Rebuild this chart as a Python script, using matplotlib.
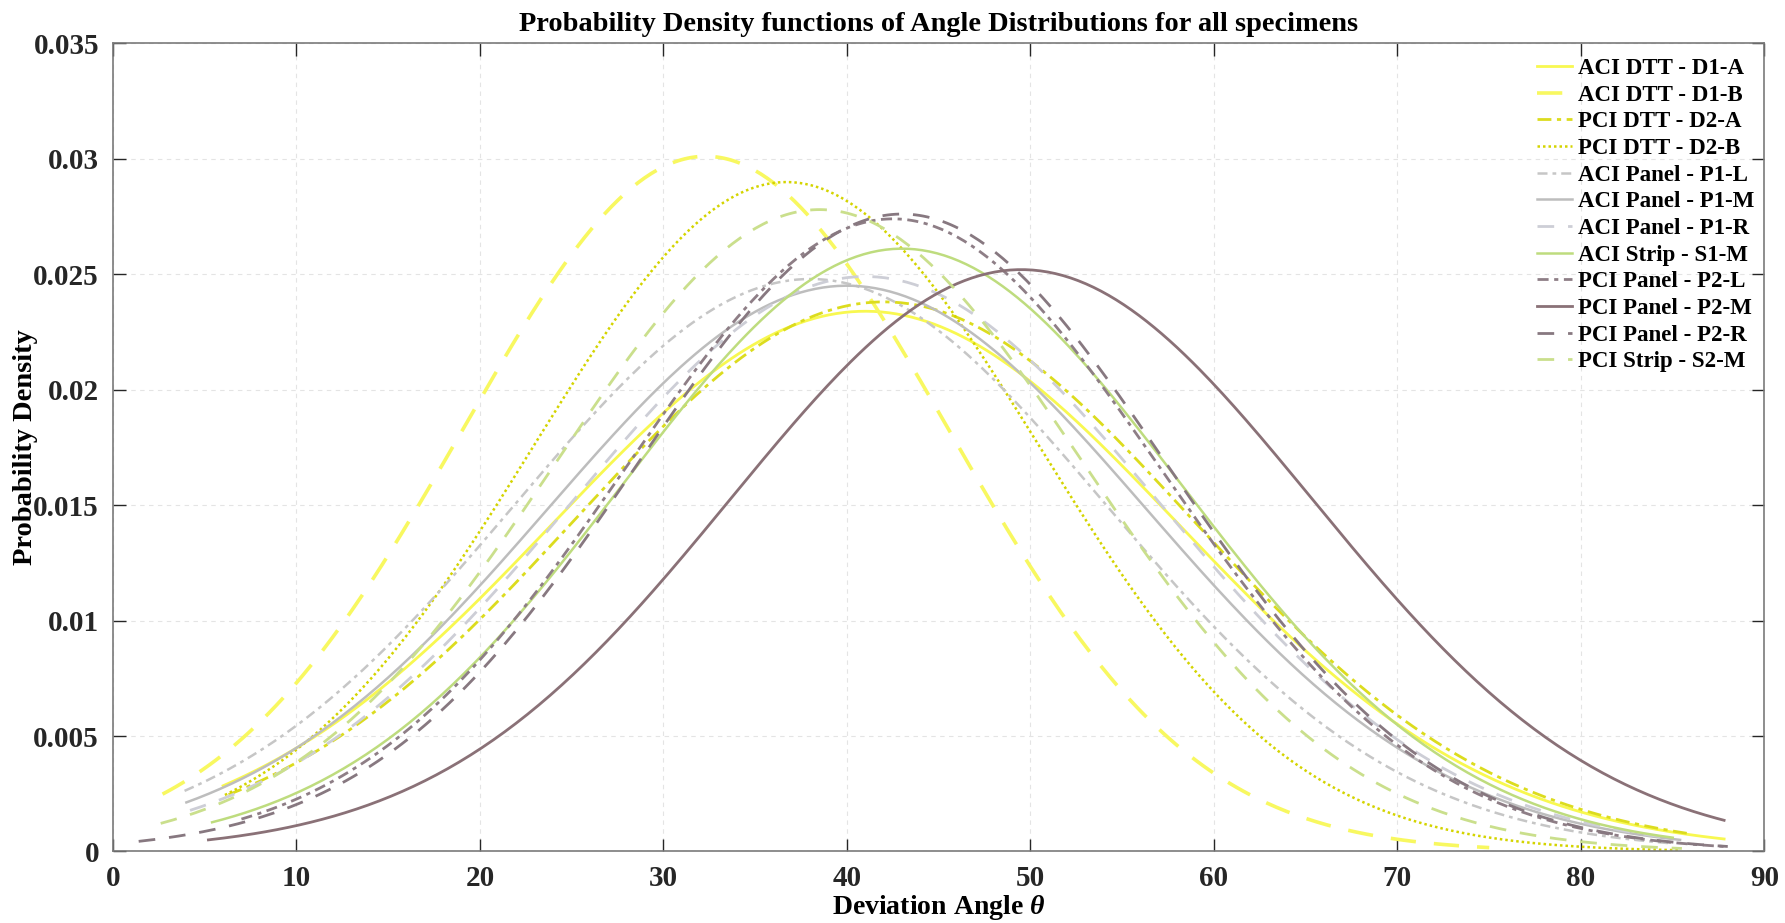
import numpy as np
import matplotlib
matplotlib.use("Agg")
import matplotlib.pyplot as plt

# Fitted normal distribution of deviation angle for each specimen
specimens = ["ACI DTT - D1-A", "ACI DTT - D1-B", "PCI DTT - D2-A", "PCI DTT - D2-B",
             "ACI Panel - P1-L", "ACI Panel - P1-M", "ACI Panel - P1-R", "ACI Strip - S1-M",
             "PCI Panel - P2-L", "PCI Panel - P2-M", "PCI Panel - P2-R", "PCI Strip - S2-M"]
mean_deg = [41.0, 32.3, 42.0, 36.7, 38.0, 40.0, 41.0, 43.0, 42.5, 49.5, 43.0, 38.5]
std_deg = [17.05, 13.25, 16.76, 13.76, 16.09, 16.28, 16.02, 15.28, 14.56, 15.83, 14.45, 14.35]
angle_min = [6.0, 2.7, 6.3, 6.1, 3.9, 4.0, 4.2, 5.4, 7.0, 5.2, 1.4, 2.6]
angle_max = [87.8, 75.0, 85.8, 85.3, 85.0, 85.4, 85.0, 85.0, 88.0, 87.8, 88.0, 85.5]

colors = ["#F8F850", "#F8F860", "#DCDC1E", "#D4D400",
          "#C6C6C6", "#BDBDBD", "#CDCED6", "#BEDC7E",
          "#8E7E86", "#8A7177", "#877880", "#CADF8C"]
styles = ["-", (0, (7, 5)), (0, (5, 2, 1.5, 2)), (0, (1, 1.2)),
          (0, (4, 2, 1.5, 2)), "-", (0, (6, 5)), "-",
          (0, (4, 2, 1.5, 2)), "-", (0, (6, 5)), (0, (6, 5))]
widths = [2.0, 2.6, 2.0, 1.8, 1.8, 1.8, 2.0, 1.8, 2.0, 2.0, 2.0, 2.0]

serif = "Liberation Serif"
plt.rcParams["font.family"] = [serif, "DejaVu Serif"]
plt.rcParams["mathtext.fontset"] = "custom"
plt.rcParams["mathtext.it"] = "Liberation Serif:italic:bold"
plt.rcParams["mathtext.rm"] = "Liberation Serif:bold"

fig = plt.figure(figsize=(17.85, 9.23), dpi=100)
ax = fig.add_axes([0.0633, 0.0775, 0.9252, 0.8755])

for name, mu, sd, lo, hi, c, ls, lw in zip(specimens, mean_deg, std_deg, angle_min,
                                           angle_max, colors, styles, widths):
    theta = np.linspace(lo, hi, 400)
    pdf = np.exp(-0.5 * ((theta - mu) / sd) ** 2) / (sd * np.sqrt(2 * np.pi))
    ax.plot(theta, pdf, color=c, linestyle=ls, linewidth=lw, label=name)

ax.set_xlim(0, 90)
ax.set_ylim(0, 0.035)
ax.set_xticks(np.arange(0, 91, 10))
ax.set_yticks(np.arange(0, 0.0351, 0.005))
ax.set_yticklabels(["0", "0.005", "0.01", "0.015", "0.02", "0.025", "0.03", "0.035"])
ax.grid(True, color="#e4e4e4", linestyle=(0, (4, 4)), linewidth=0.8)
ax.tick_params(direction="in", length=9, width=1, colors="#262626",
               top=True, right=True, labelsize=21, pad=10)
for lab in ax.get_xticklabels() + ax.get_yticklabels():
    lab.set_fontweight("bold")
for sp in ax.spines.values():
    sp.set_color("#7a7a7a")
    sp.set_linewidth(1.2)

ax.set_xlabel(r"Deviation Angle $\theta$", fontsize=20, fontweight="bold", va="center")
ax.xaxis.set_label_coords(0.5, -0.069)
ax.set_ylabel("Probability Density", fontsize=20.5, fontweight="bold", va="center")
ax.yaxis.set_label_coords(-0.053, 0.5)
ax.set_title("Probability Density functions of Angle Distributions for all specimens",
             fontsize=20.4, fontweight="bold", pad=9)

leg = ax.legend(loc="upper left", bbox_to_anchor=(0.862, 0.982), frameon=False,
                handlelength=1.53, handletextpad=0.26, labelspacing=0.245,
                borderpad=0.0, borderaxespad=0.0,
                prop={"family": serif, "weight": "bold", "size": 16.5})

fig.savefig("out.png", dpi=100, facecolor="white")
